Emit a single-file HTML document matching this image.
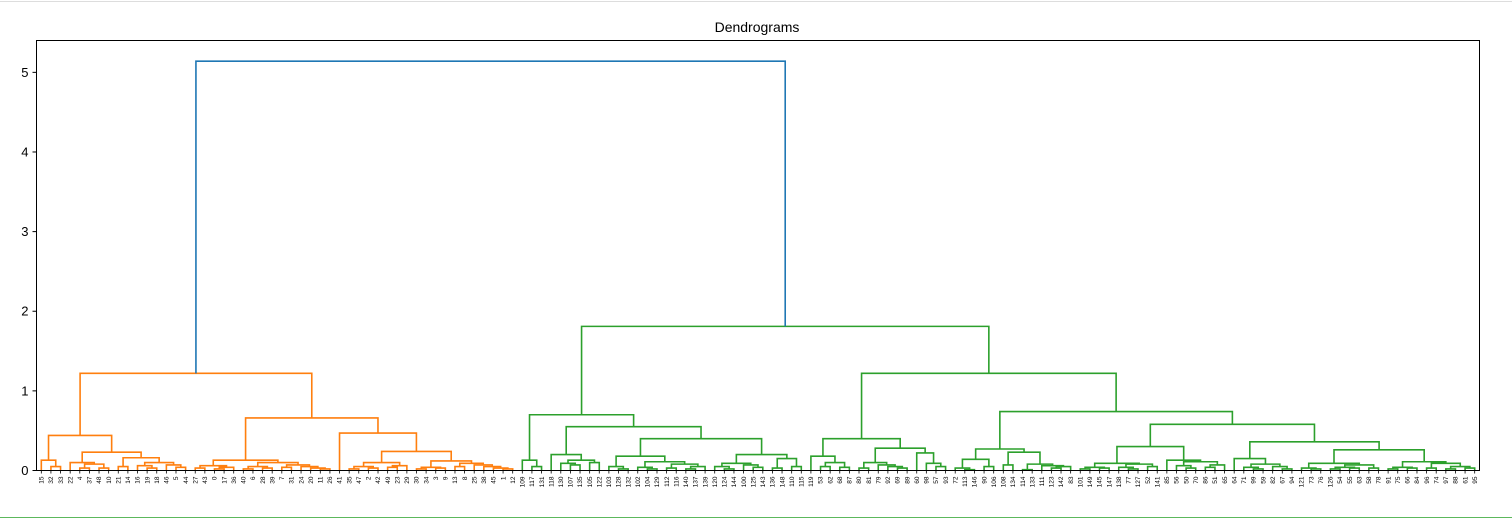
<!DOCTYPE html>
<html><head><meta charset="utf-8"><style>
body{margin:0;background:#fff;font-family:"Liberation Sans","DejaVu Sans",sans-serif;}
svg{display:block}
</style></head><body>
<svg id="chart" width="1512" height="519">
<line x1="0" y1="1.5" x2="1512" y2="1.5" stroke="#ddd"/>
<line x1="0" y1="517.5" x2="1512" y2="517.5" stroke="#5cb85c"/>
<text x="757" y="32" text-anchor="middle" font-size="14" fill="#000">Dendrograms</text>
<g id="links"></g>
<g id="yaxis"></g>
<g id="leaves"></g>
<rect x="36.5" y="40.5" width="1443" height="430" fill="none" stroke="#000" stroke-width="1"/>
</svg>
<script>
const leafLabels = [15,32,33,22,4,37,48,10,21,14,16,19,18,46,5,44,27,43,0,17,36,40,6,28,39,7,31,24,20,11,26,41,35,47,2,42,49,23,29,30,34,3,9,13,8,25,38,45,1,12,
109,117,131,118,130,107,135,105,122,103,128,132,102,104,129,112,116,140,137,139,120,124,144,100,125,143,136,148,110,115,
119,53,62,68,87,80,81,79,92,69,89,60,98,57,93,72,113,146,90,106,108,134,114,133,111,123,142,83,101,149,
145,147,138,77,127,52,141,85,56,50,70,86,51,65,64,71,99,59,82,67,94,121,73,76,126,54,55,63,58,78,91,75,66,84,96,74,97,88,61,95];
const yTicks = [0,1,2,3,4,5];
// tree: [height, left, right]; leaf = position index
const orangeTree = [1.22,
  [0.44, [0.13,0,[0.05,1,2]],
         [0.23, [0.1,3,[0.08,[0.03,4,5],[0.03,6,7]]],
                [0.16,[0.05,8,9],[0.1,[0.06,10,[0.03,11,12]],[0.07,13,[0.04,14,15]]]]]],
  [0.66, [0.13,[0.06,[0.03,16,17],[0.04,[0.02,18,19],20]],[0.1,[0.05,[0.02,21,22],[0.03,23,24]],[0.07,[0.04,25,26],[0.05,27,[0.03,28,[0.02,29,30]]]]]],
         [0.47, 31, [0.24, [0.1,[0.05,[0.02,32,33],[0.03,34,35]],[0.06,[0.04,36,37],38]],
                           [0.12,[0.04,[0.02,39,40],[0.03,41,42]],[0.09,[0.05,43,44],[0.07,45,[0.05,46,[0.03,47,[0.02,48,49]]]]]]]]]];
const greenTree = [1.81,
  [0.7, [0.13,50,[0.05,51,52]],
        [0.55, [0.2,53,[0.13,[0.09,54,[0.07,55,56]],[0.1,57,58]]],
               [0.4, [0.18,[0.05,59,[0.02,60,61]],[0.11,[0.04,62,[0.02,63,64]],[0.08,[0.03,65,66],[0.05,[0.02,67,68],69]]]],
                     [0.2,[0.09,[0.05,70,[0.02,71,72]],[0.07,73,[0.04,74,75]]],[0.15,[0.03,76,77],[0.05,78,79]]]]]],
  [1.22,
    [0.4, [0.18,80,[0.1,[0.05,81,82],[0.04,83,84]]],
          [0.28,[0.1,[0.03,85,86],[0.07,87,[0.05,88,[0.03,89,90]]]],[0.22,91,[0.09,92,[0.05,93,94]]]]],
    [0.74,
      [0.27,[0.14,[0.03,95,[0.01,96,97]],[0.05,98,99]],[0.23,[0.07,100,101],[0.08,[0.01,102,103],[0.06,104,[0.05,[0.03,105,106],107]]]]],
      [0.58,
        [0.3,[0.09,[0.04,[0.02,108,109],[0.03,110,111]],[0.08,[0.04,112,[0.02,113,114]],[0.05,115,116]]],
             [0.13,117,[0.11,[0.06,118,[0.03,119,120]],[0.07,[0.04,121,122],123]]]],
        [0.36,[0.15,124,[0.08,[0.04,125,[0.02,126,127]],[0.05,128,[0.02,129,130]]]],
              [0.26,[0.09,[0.03,131,[0.02,132,133]],[0.07,[0.04,[0.02,134,135],[0.03,136,137]],[0.03,138,139]]],
                    [0.11,[0.04,[0.02,140,141],[0.03,142,143]],[0.09,[0.03,144,145],[0.05,[0.02,146,147],[0.03,148,149]]]]]]]]]];
const rootHeight = 5.14;

const X0=36.5, X1=1479.5, Y0=470.5, YTOP=40.5, HMAX=5.4;
const n = leafLabels.length;
const xLeaf = i => X0 + (X1-X0)/n*(i+0.5);
const yPos = h => Y0 - h*(Y0-YTOP)/HMAX;
const NS="http://www.w3.org/2000/svg";
const links=document.getElementById('links');
function drawU(xl,hl,xr,hr,h,color){
  const p=document.createElementNS(NS,'path');
  p.setAttribute('d',`M${xl},${yPos(hl)}V${yPos(h)}H${xr}V${yPos(hr)}`);
  p.setAttribute('fill','none');p.setAttribute('stroke',color);p.setAttribute('stroke-width','1.6');
  
  
  links.appendChild(p);
}
function walk(node,color){
  if(typeof node==='number') return {x:xLeaf(node),h:0};
  const l=walk(node[1],color), r=walk(node[2],color);
  drawU(l.x,l.h,r.x,r.h,node[0],color);
  return {x:(l.x+r.x)/2,h:node[0]};
}
const o=walk(orangeTree,'#ff7f0e');
const g=walk(greenTree,'#2ca02c');
drawU(o.x,o.h,g.x,g.h,rootHeight,'#1f77b4');

const ya=document.getElementById('yaxis');
yTicks.forEach(t=>{
  const y=yPos(t);
  const l=document.createElementNS(NS,'line');
  l.setAttribute('x1',X0-4);l.setAttribute('x2',X0);l.setAttribute('y1',y);l.setAttribute('y2',y);l.setAttribute('stroke','#000');
  
  
  ya.appendChild(l);
  const tx=document.createElementNS(NS,'text');
  tx.setAttribute('x',X0-8);tx.setAttribute('y',y+4.5);tx.setAttribute('text-anchor','end');tx.setAttribute('font-size','13');
  tx.textContent=t;
  
  
  ya.appendChild(tx);
});
const lv=document.getElementById('leaves');
leafLabels.forEach((lab,i)=>{
  const x=xLeaf(i);
  const tk=document.createElementNS(NS,'line');
  tk.setAttribute('x1',x);tk.setAttribute('x2',x);tk.setAttribute('y1',Y0);tk.setAttribute('y2',Y0+3);tk.setAttribute('stroke','#000');tk.setAttribute('stroke-width','0.8');
  
  
  lv.appendChild(tk);
  const t=document.createElementNS(NS,'text');
  t.setAttribute('transform',`translate(${x+2.2},${Y0+6}) rotate(-90)`);
  t.setAttribute('text-anchor','end');t.setAttribute('font-size','6.5');
  t.textContent=lab;
  
  
  lv.appendChild(t);
});
</script>
</body></html>
